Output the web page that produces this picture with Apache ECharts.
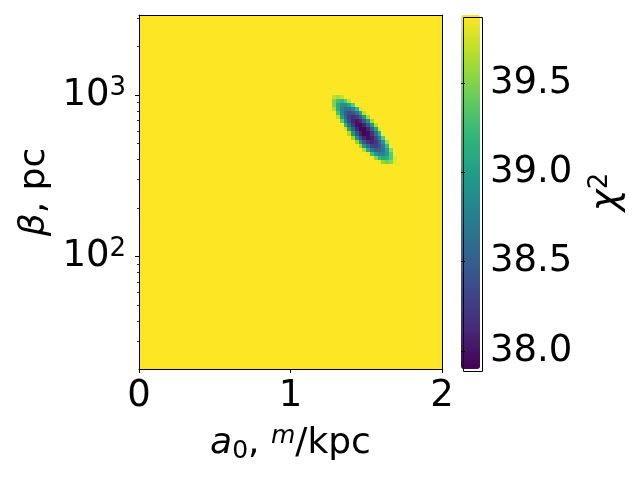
<!DOCTYPE html>
<html>
<head>
<meta charset="utf-8">
<script src="https://cdn.jsdelivr.net/npm/echarts@6/dist/echarts.min.js"></script>
<style>
  html, body { margin: 0; background: #fff; }
  #chart { width: 640px; height: 480px; }
</style>
</head>
<body>
<div id="chart"></div>
<script>
// chi^2 map over (a0, beta); outside the fitted ellipse the map is flat
const a0Range = [0, 2]
const betaRange = [20.2, 3130]
const chi2Range = [37.9, 39.88]
const bgChi2 = 39.88

// cell edges of the region around the minimum
const a0Edges = [1.25, 1.275, 1.3, 1.325, 1.35, 1.375, 1.4, 1.425, 1.45, 1.475,
  1.5, 1.525, 1.55, 1.575, 1.6, 1.625, 1.65, 1.675, 1.7]
const betaEdges = [376, 398, 422, 447, 473, 501, 531, 562, 596, 631, 668, 708,
  750, 794, 841, 891, 944, 1000]

// one row per beta cell (bottom to top), first a0 cell index of the row
const rowStart = [13, 12, 10, 9, 8, 7, 6, 5, 4, 4, 3, 2, 2, 1, 1, 1, 1]
const chi2Rows = [
  [39.83, 39.55, 39.46, 39.55, 39.82],
  [39.53, 39.22, 39.09, 39.15, 39.39, 39.81],
  [39.83, 39.29, 38.94, 38.78, 38.80, 39.01, 39.40],
  [39.65, 39.10, 38.71, 38.52, 38.51, 38.68, 39.04, 39.59],
  [39.56, 38.96, 38.55, 38.32, 38.28, 38.42, 38.74, 39.25],
  [39.52, 38.89, 38.44, 38.18, 38.10, 38.21, 38.50, 38.97, 39.63],
  [39.53, 38.87, 38.39, 38.09, 37.98, 38.06, 38.31, 38.76, 39.39],
  [39.62, 38.91, 38.40, 38.07, 37.92, 37.96, 38.18, 38.59, 39.18],
  [39.76, 39.02, 38.47, 38.10, 37.92, 37.93, 38.11, 38.48, 39.04, 39.78],
  [39.18, 38.59, 38.19, 37.98, 37.95, 38.10, 38.43, 38.95, 39.66],
  [39.40, 38.78, 38.34, 38.09, 38.02, 38.14, 38.45, 38.93, 39.60],
  [39.67, 39.01, 38.54, 38.26, 38.16, 38.25, 38.52, 38.98, 39.61],
  [39.31, 38.81, 38.49, 38.36, 38.41, 38.65, 39.07, 39.68],
  [39.65, 39.13, 38.78, 38.61, 38.62, 38.82, 39.21, 39.79],
  [39.50, 39.12, 38.91, 38.89, 39.06, 39.41],
  [39.51, 39.28, 39.23, 39.38, 39.69],
  [39.70, 39.62, 39.72]
]

// ticks
const a0Ticks = [0, 1, 2]
const betaTicks = [100, 1000]
const betaMinorTicks = [30, 40, 50, 60, 70, 80, 90, 200, 300, 400, 500, 600, 700, 800, 900, 2000, 3000]
const chi2Ticks = [38.0, 38.5, 39.0, 39.5]

const viridis = ['#440154', '#482878', '#3e4989', '#31688e', '#26828e',
  '#1f9e89', '#35b779', '#6ece58', '#b5de2b', '#fde725']

const cells = [[a0Range[0], a0Range[1], betaRange[0], betaRange[1], bgChi2]]
chi2Rows.forEach((row, j) => {
  row.forEach((v, i) => {
    const k = rowStart[j] + i
    cells.push([a0Edges[k], a0Edges[k + 1], betaEdges[j], betaEdges[j + 1], v])
  })
})

const FONT = 'DejaVu Sans'
const plot = { left: 139, top: 15, width: 303, height: 354 }
const cbar = { left: 461, top: 15, width: 19, height: 354 }

const spine = { show: true, lineStyle: { color: '#000', width: 1 } }
const hidden = { show: false }

const supRich = {
  b: { fontSize: 37, lineHeight: 40, verticalAlign: 'middle', fontFamily: FONT, color: '#000' },
  s: { fontSize: 26, lineHeight: 18, verticalAlign: 'top', fontFamily: FONT, color: '#000' }
}

const chart = echarts.init(document.getElementById('chart'))

const option = {
  backgroundColor: '#fff',
  animation: false,
  textStyle: { fontFamily: FONT },
  grid: [
    { ...plot, containLabel: false },
    { ...cbar, containLabel: false }
  ],
  xAxis: [
    {
      type: 'value',
      gridIndex: 0,
      position: 'bottom',
      min: a0Range[0],
      max: a0Range[1],
      z: 5,
      axisLine: spine,
      axisTick: { show: true, length: 4, customValues: a0Ticks, lineStyle: { color: '#000' } },
      axisLabel: { customValues: a0Ticks, fontSize: 37, color: '#000', margin: 9, fontFamily: FONT },
      splitLine: hidden,
      name: '{i|a}{sub|0}{n|, }{sup|m}{n|/kpc}',
      nameLocation: 'middle',
      nameGap: 55,
      nameTextStyle: {
        rich: {
          i: { fontSize: 36, lineHeight: 40, fontStyle: 'italic', verticalAlign: 'middle', fontFamily: FONT, color: '#000' },
          sub: { fontSize: 25, lineHeight: 22, verticalAlign: 'bottom', fontFamily: FONT, color: '#000' },
          n: { fontSize: 36, lineHeight: 40, verticalAlign: 'middle', fontFamily: FONT, color: '#000' },
          sup: { fontSize: 25, lineHeight: 22, fontStyle: 'italic', verticalAlign: 'top', fontFamily: FONT, color: '#000' }
        }
      }
    },
    {
      type: 'value',
      gridIndex: 0,
      position: 'top',
      min: a0Range[0],
      max: a0Range[1],
      z: 5,
      axisLine: spine,
      axisTick: hidden,
      axisLabel: hidden,
      splitLine: hidden
    },
    {
      type: 'value',
      gridIndex: 1,
      min: 0,
      max: 1,
      show: false
    }
  ],
  yAxis: [
    {
      type: 'log',
      gridIndex: 0,
      position: 'left',
      min: betaRange[0],
      max: betaRange[1],
      z: 5,
      axisLine: spine,
      axisTick: { show: true, length: 4, customValues: betaTicks, lineStyle: { color: '#000' } },
      axisLabel: {
        customValues: betaTicks,
        margin: 13,
        formatter: v => '{b|10}{s|' + Math.round(Math.log10(v)) + '}',
        rich: supRich
      },
      splitLine: hidden,
      minorTick: hidden,
      name: '{i|β}{n|, pc}',
      nameLocation: 'middle',
      nameGap: 84,
      nameRotate: 90,
      nameTextStyle: {
        rich: {
          i: { fontSize: 36, lineHeight: 40, fontStyle: 'italic', fontFamily: FONT, color: '#000' },
          n: { fontSize: 36, lineHeight: 40, fontFamily: FONT, color: '#000' }
        }
      }
    },
    {
      type: 'log',
      gridIndex: 0,
      position: 'left',
      min: betaRange[0],
      max: betaRange[1],
      z: 5,
      axisLine: hidden,
      axisTick: { show: true, length: 2, customValues: betaMinorTicks, lineStyle: { color: '#000', width: 0.8 } },
      axisLabel: hidden,
      splitLine: hidden
    },
    {
      type: 'log',
      gridIndex: 0,
      position: 'right',
      min: betaRange[0],
      max: betaRange[1],
      z: 5,
      axisLine: spine,
      axisTick: hidden,
      axisLabel: hidden,
      splitLine: hidden
    },
    {
      type: 'value',
      gridIndex: 1,
      position: 'right',
      min: chi2Range[0],
      max: chi2Range[1],
      z: 5,
      axisLine: hidden,
      axisTick: { show: true, length: 4, customValues: chi2Ticks, lineStyle: { color: '#000' } },
      axisLabel: {
        customValues: chi2Ticks,
        fontSize: 37,
        color: '#000',
        margin: 10,
        fontFamily: FONT,
        formatter: v => v.toFixed(1),
        padding: [4, 0, 0, 0]
      },
      splitLine: hidden,
      name: '{i|χ}{s|2}',
      nameLocation: 'middle',
      nameGap: 107,
      nameRotate: 90,
      nameTextStyle: {
        rich: {
          i: { fontSize: 37, lineHeight: 40, fontStyle: 'italic', verticalAlign: 'middle', fontFamily: FONT, color: '#000' },
          s: { fontSize: 26, lineHeight: 18, verticalAlign: 'top', fontFamily: FONT, color: '#000' }
        }
      }
    }
  ],
  visualMap: {
    type: 'continuous',
    seriesIndex: 0,
    dimension: 4,
    min: chi2Range[0],
    max: chi2Range[1],
    calculable: false,
    hoverLink: false,
    left: cbar.left,
    top: cbar.top,
    itemWidth: cbar.width,
    itemHeight: cbar.height,
    padding: 0,
    text: null,
    inRange: { color: viridis }
  },
  graphic: [{
    type: 'rect',
    left: cbar.left,
    top: cbar.top,
    z: 100,
    shape: { width: cbar.width, height: cbar.height },
    style: { fill: 'none', stroke: '#000', lineWidth: 1 }
  }],
  series: [{
    type: 'custom',
    xAxisIndex: 0,
    yAxisIndex: 0,
    clip: true,
    encode: { x: [0, 1], y: [2, 3] },
    data: cells,
    renderItem: (params, api) => {
      const p0 = api.coord([api.value(0), api.value(3)])
      const p1 = api.coord([api.value(1), api.value(2)])
      const x0 = Math.round(p0[0]), y0 = Math.round(p0[1])
      const x1 = Math.round(p1[0]), y1 = Math.round(p1[1])
      return {
        type: 'rect',
        shape: { x: x0, y: y0, width: x1 - x0, height: y1 - y0 },
        style: { fill: api.visual('color') }
      }
    }
  }]
}

chart.setOption(option)
</script>
</body>
</html>
